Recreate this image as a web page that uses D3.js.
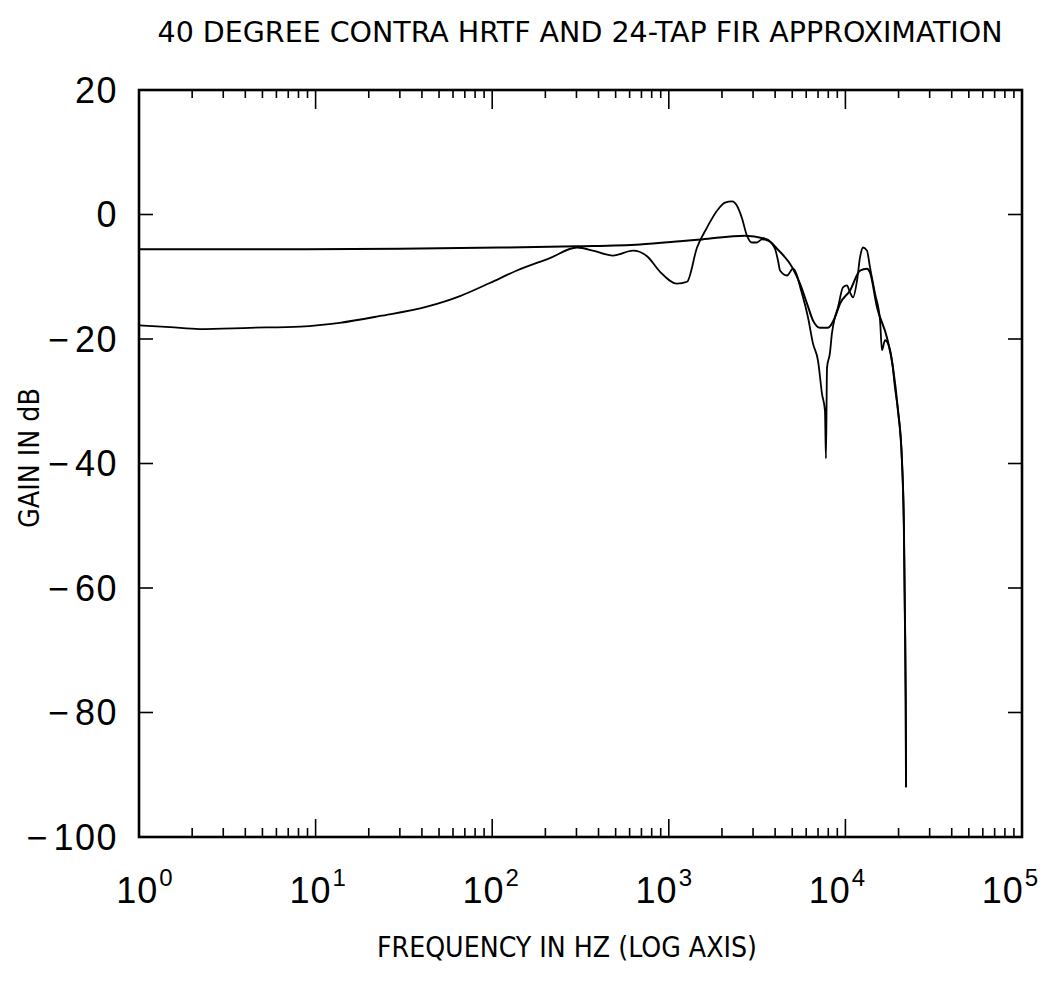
<!DOCTYPE html>
<html>
  <head>
    <style>
      body { margin: 0; background: #fff; }
      text { fill: #000; }
    </style>
  </head>
  <body>
    <script src="https://cdn.jsdelivr.net/npm/d3@7"></script>
    <script>
      // measured HRTF (the wiggly one)
      var hrtfFreq = [1, 1.5, 2.2, 4.25, 8.2, 13.7, 23.2, 42.7, 65.7, 97, 138, 212, 302, 382, 483, 627, 753, 892,
        1112, 1268, 1445, 1645, 1875, 2080, 2280, 2433, 2596, 2770, 2958, 3157, 3370, 3646, 3993, 4153, 4265,
        4670, 5050, 5676, 6140, 6550, 7000, 7370, 7660, 7760, 7870, 8170, 8390, 8730, 9080, 9690, 10200,
        10610, 11050, 11640, 12100, 12590, 13250, 13780, 14720, 15710, 16110, 16760, 17420, 18360, 19080,
        19870, 20900, 21460, 21740, 21950, 22050];
      var hrtfGain = [-17.8, -18.1, -18.4, -18.2, -18.0, -17.4, -16.3, -14.8, -13.1, -11.0, -9.0, -7.0, -5.3, -5.9,
        -6.6, -5.8, -6.7, -9.2, -11.1, -10.8, -5.3, -2.1, 0.6, 1.9, 2.1, 1.4, -0.6, -3.4, -4.5, -4.5, -4.0,
        -4.2, -5.5, -7.4, -9.0, -9.8, -8.7, -12.7, -16.5, -20.7, -23.5, -28.8, -31.5, -39.2, -24.6, -22.3,
        -19.1, -16.5, -14.9, -11.7, -11.4, -12.5, -13.3, -10.6, -6.9, -5.3, -5.8, -8.5, -12.7, -17.0, -21.8,
        -20.2, -20.7, -23.5, -27.8, -31.5, -39.5, -50.8, -65.2, -78, -92];

      // 24-tap FIR approximation (the smooth one)
      var firFreq = [1, 4.25, 30, 111, 302, 687, 1157, 1541, 2698, 3597, 4100, 5050, 5530, 6060, 6550, 7180,
        7970, 8740, 9330, 10630, 12100, 13250, 13780, 15100, 17200, 18600, 19850, 20900, 21450, 21740, 21950, 22050];
      var firGain = [-5.6, -5.6, -5.5, -5.3, -5.1, -4.8, -4.3, -4.0, -3.4, -4.0, -5.5, -8.7, -11.1, -14.3, -17.0,
        -18.2, -18.2, -16.5, -14.3, -12.2, -9.0, -8.7, -9.3, -14.9, -19.8, -24.6, -31.5, -39.5, -50.8, -65.2, -78, -92];

      var yTicks = [20, 0, -20, -40, -60, -80, -100];
      var xDecades = [0, 1, 2, 3, 4, 5];

      var W = 1045, H = 995;
      var pL = 139, pR = 1022, pT = 90, pB = 837;

      var svg = d3.select("body").append("svg")
        .attr("width", W).attr("height", H);
      svg.append("rect").attr("width", W).attr("height", H).attr("fill", "#fff");

      var x = d3.scaleLog().domain([1, 1e5]).range([pL, pR]);
      var y = d3.scaleLinear().domain([-100, 20]).range([pB, pT]);

      var narrow = "'DejaVu Sans Condensed','Liberation Sans Narrow',sans-serif";
      var plain = "'Liberation Sans',Arial,Helvetica,sans-serif";

      // title
      svg.append("text")
        .attr("x", 580).attr("y", 42)
        .attr("text-anchor", "middle")
        .attr("textLength", 845).attr("lengthAdjust", "spacingAndGlyphs")
        .style("font-family", narrow).style("font-size", "28px")
        .text("40 DEGREE CONTRA HRTF AND 24-TAP FIR APPROXIMATION");

      // minor x ticks (2..9 of each decade)
      var minor = [];
      for (var d = 0; d < 5; d++)
        for (var m = 2; m <= 9; m++) minor.push(m * Math.pow(10, d));

      var tk = svg.append("g").attr("stroke", "#000").attr("stroke-width", 1.6);
      minor.forEach(function(v){
        tk.append("line").attr("x1", x(v)).attr("x2", x(v)).attr("y1", pB).attr("y2", pB - 9);
        tk.append("line").attr("x1", x(v)).attr("x2", x(v)).attr("y1", pT).attr("y2", pT + 8);
      });
      xDecades.forEach(function(k){
        var v = Math.pow(10, k);
        tk.append("line").attr("x1", x(v)).attr("x2", x(v)).attr("y1", pB).attr("y2", pB - 18);
        tk.append("line").attr("x1", x(v)).attr("x2", x(v)).attr("y1", pT).attr("y2", pT + 19);
      });
      yTicks.forEach(function(v){
        tk.append("line").attr("x1", pL).attr("x2", pL + 14).attr("y1", y(v)).attr("y2", y(v));
        tk.append("line").attr("x1", pR).attr("x2", pR - 14).attr("y1", y(v)).attr("y2", y(v));
      });

      // frame
      svg.append("rect")
        .attr("x", pL).attr("y", pT)
        .attr("width", pR - pL).attr("height", pB - pT)
        .attr("fill", "none").attr("stroke", "#000").attr("stroke-width", 2.6);

      // y tick labels, wide minus like the plotter font
      var yl = svg.append("g").selectAll("text").data(yTicks).enter().append("text")
        .attr("x", 118).attr("y", function(d){ return y(d); })
        .attr("dy", "0.36em")
        .attr("text-anchor", "end")
        .style("font-family", plain).style("font-size", "36px")
        .style("letter-spacing", "1.5px");
      yl.filter(function(d){ return d < 0; }).append("tspan")
        .attr("dx", 0).style("letter-spacing", "0px").text("\u2212");
      yl.append("tspan")
        .attr("dx", function(d){ return d < 0 ? 6 : 0; })
        .text(function(d){ return Math.abs(d); });

      // x tick labels 10^k
      var xl = svg.append("g").selectAll("text").data(xDecades).enter().append("text")
        .attr("x", function(k){ return x(Math.pow(10, k)) + 6 - 3.5 * k; })
        .attr("y", 903)
        .attr("text-anchor", "middle")
        .style("font-family", plain).style("font-size", "36px")
        .style("letter-spacing", "1px");
      xl.append("tspan").text("10");
      xl.append("tspan").attr("dy", -17).attr("dx", 1).style("font-size", "24px").text(function(k){ return k; });

      // axis titles
      svg.append("text")
        .attr("x", 567).attr("y", 957)
        .attr("text-anchor", "middle")
        .attr("textLength", 380).attr("lengthAdjust", "spacingAndGlyphs")
        .style("font-family", narrow).style("font-size", "28px")
        .text("FREQUENCY IN HZ (LOG AXIS)");

      svg.append("text")
        .attr("transform", "translate(39,458) rotate(-90)")
        .attr("text-anchor", "middle")
        .attr("textLength", 140).attr("lengthAdjust", "spacingAndGlyphs")
        .style("font-family", narrow).style("font-size", "28px")
        .text("GAIN IN dB");

      // curves
      var line = d3.line()
        .x(function(d){ return x(d[0]); })
        .y(function(d){ return y(d[1]); })
        .curve(d3.curveMonotoneX);

      var hrtf = hrtfFreq.map(function(f, i){ return [f, hrtfGain[i]]; });
      var fir = firFreq.map(function(f, i){ return [f, firGain[i]]; });

      svg.append("path").datum(fir)
        .attr("d", line).attr("fill", "none")
        .attr("stroke", "#000").attr("stroke-width", 2);
      svg.append("path").datum(hrtf)
        .attr("d", line).attr("fill", "none")
        .attr("stroke", "#000").attr("stroke-width", 1.8);
    </script>
  </body>
</html>
